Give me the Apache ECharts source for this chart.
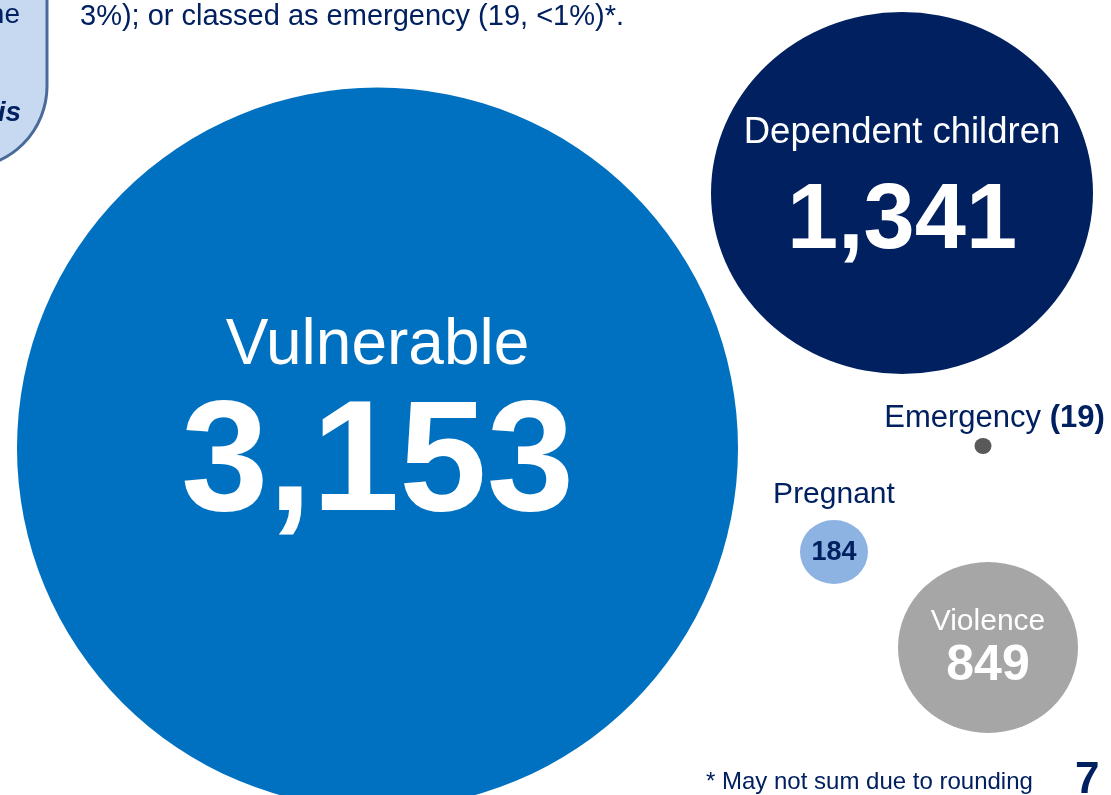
<!DOCTYPE html>
<html>
<head>
<meta charset="utf-8">
<script src="https://cdn.jsdelivr.net/npm/echarts@6/dist/echarts.min.js"></script>
<style>
  html, body { margin: 0; padding: 0; background: #fff; }
  #chart { width: 1111px; height: 795px; }
</style>
</head>
<body>
<div id="chart"></div>
<script>
// data
const categories = ['Vulnerable', 'Dependent children', 'Violence', 'Pregnant', 'Emergency'];
const counts = [3153, 1341, 849, 184, 19];

// layout (pixel space of the slide), kept apart from the data
const bubbleX = [377.5, 902, 988, 834, 983];
const bubbleY = [448, 193, 647.5, 552, 446];
const bubbleW = [721, 382, 180, 68, 17];
const bubbleH = [721, 362, 171, 64, 16];
const colors = ['#0070c0', '#002060', '#a6a6a6', '#8db3e2', '#595959'];

const NAVY = '#002060';
const FONT = '"Liberation Sans", Arial, sans-serif';

const fmt = v => v.toLocaleString('en-US');

// label styles per bubble
const labels = [
  {
    offset: [0, -20],
    formatter: p => '{a|' + p.name + '}\n{b|' + fmt(p.value[2]) + '}',
    rich: {
      a: { fontSize: 64, lineHeight: 78, color: '#fff', fontFamily: FONT },
      b: { fontSize: 157, lineHeight: 164, color: '#fff', fontWeight: 'bold', fontFamily: FONT },
    },
  },
  {
    offset: [0, 9],
    formatter: p => '{a|' + p.name + '}\n{b|' + fmt(p.value[2]) + '}',
    rich: {
      a: { fontSize: 36.5, lineHeight: 42, color: '#fff', fontFamily: FONT },
      b: { fontSize: 92, lineHeight: 138, color: '#fff', fontWeight: 'bold', fontFamily: FONT },
    },
  },
  {
    offset: [0, 1.5],
    formatter: p => '{a|' + p.name + '}\n{b|' + fmt(p.value[2]) + '}',
    rich: {
      a: { fontSize: 30, lineHeight: 34, color: '#fff', fontFamily: FONT },
      b: { fontSize: 50, lineHeight: 54, color: '#fff', fontWeight: 'bold', fontFamily: FONT },
    },
  },
  {
    offset: [0, -28],
    formatter: p => '{a|' + p.name + '}\n{b|' + fmt(p.value[2]) + '}',
    rich: {
      a: { fontSize: 30, lineHeight: 58, color: NAVY, fontFamily: FONT },
      b: { fontSize: 27, lineHeight: 59, color: NAVY, fontWeight: 'bold', fontFamily: FONT },
    },
  },
  {
    offset: [11.5, -28],
    formatter: p => '{a|' + p.name + ' }{b|(' + fmt(p.value[2]) + ')}',
    rich: {
      a: { fontSize: 31, lineHeight: 32, color: NAVY, fontFamily: FONT },
      b: { fontSize: 31, lineHeight: 32, color: NAVY, fontWeight: 'bold', fontFamily: FONT },
    },
  },
];

const chart = echarts.init(document.getElementById('chart'));

chart.setOption({
  animation: false,
  backgroundColor: '#fff',
  grid: { left: 0, right: 0, top: 0, bottom: 0 },
  xAxis: { type: 'value', min: 0, max: 1111, show: false },
  yAxis: { type: 'value', min: 0, max: 795, inverse: true, show: false },
  graphic: [
    // cropped callout box on the left
    {
      type: 'rect',
      shape: { x: -300, y: -300, width: 347, height: 468, r: [0, 0, 82, 0] },
      style: { fill: '#c6d9f1', stroke: '#4a6a99', lineWidth: 3 },
    },
    {
      type: 'text',
      style: { x: 20, y: 15, text: 'he', fill: NAVY, font: '28px ' + FONT, textAlign: 'right', textVerticalAlign: 'middle' },
    },
    {
      type: 'text',
      style: { x: 21, y: 113, text: 'is', fill: NAVY, font: 'italic bold 28px ' + FONT, textAlign: 'right', textVerticalAlign: 'middle' },
    },
    {
      type: 'text',
      style: { x: 80, y: 17, text: '3%); or classed as emergency (19, <1%)*.', fill: NAVY, font: '29px ' + FONT, textAlign: 'left', textVerticalAlign: 'middle' },
    },
    {
      type: 'text',
      style: { x: 706, y: 782, text: '* May not sum due to rounding', fill: NAVY, font: '24px ' + FONT, textAlign: 'left', textVerticalAlign: 'middle' },
    },
    {
      type: 'text',
      style: { x: 1075, y: 781, text: '7', fill: NAVY, font: 'bold 44px ' + FONT, textAlign: 'left', textVerticalAlign: 'middle' },
    },
  ],
  series: [{
    type: 'scatter',
    symbol: 'circle',
    silent: true,
    emphasis: { disabled: true },
    data: categories.map((name, i) => ({
      name: name,
      value: [bubbleX[i], bubbleY[i], counts[i]],
      symbolSize: [bubbleW[i], bubbleH[i]],
      itemStyle: { color: colors[i], opacity: 1 },
      label: Object.assign({ show: true, position: 'inside' }, labels[i]),
    })),
  }],
});
</script>
</body>
</html>
